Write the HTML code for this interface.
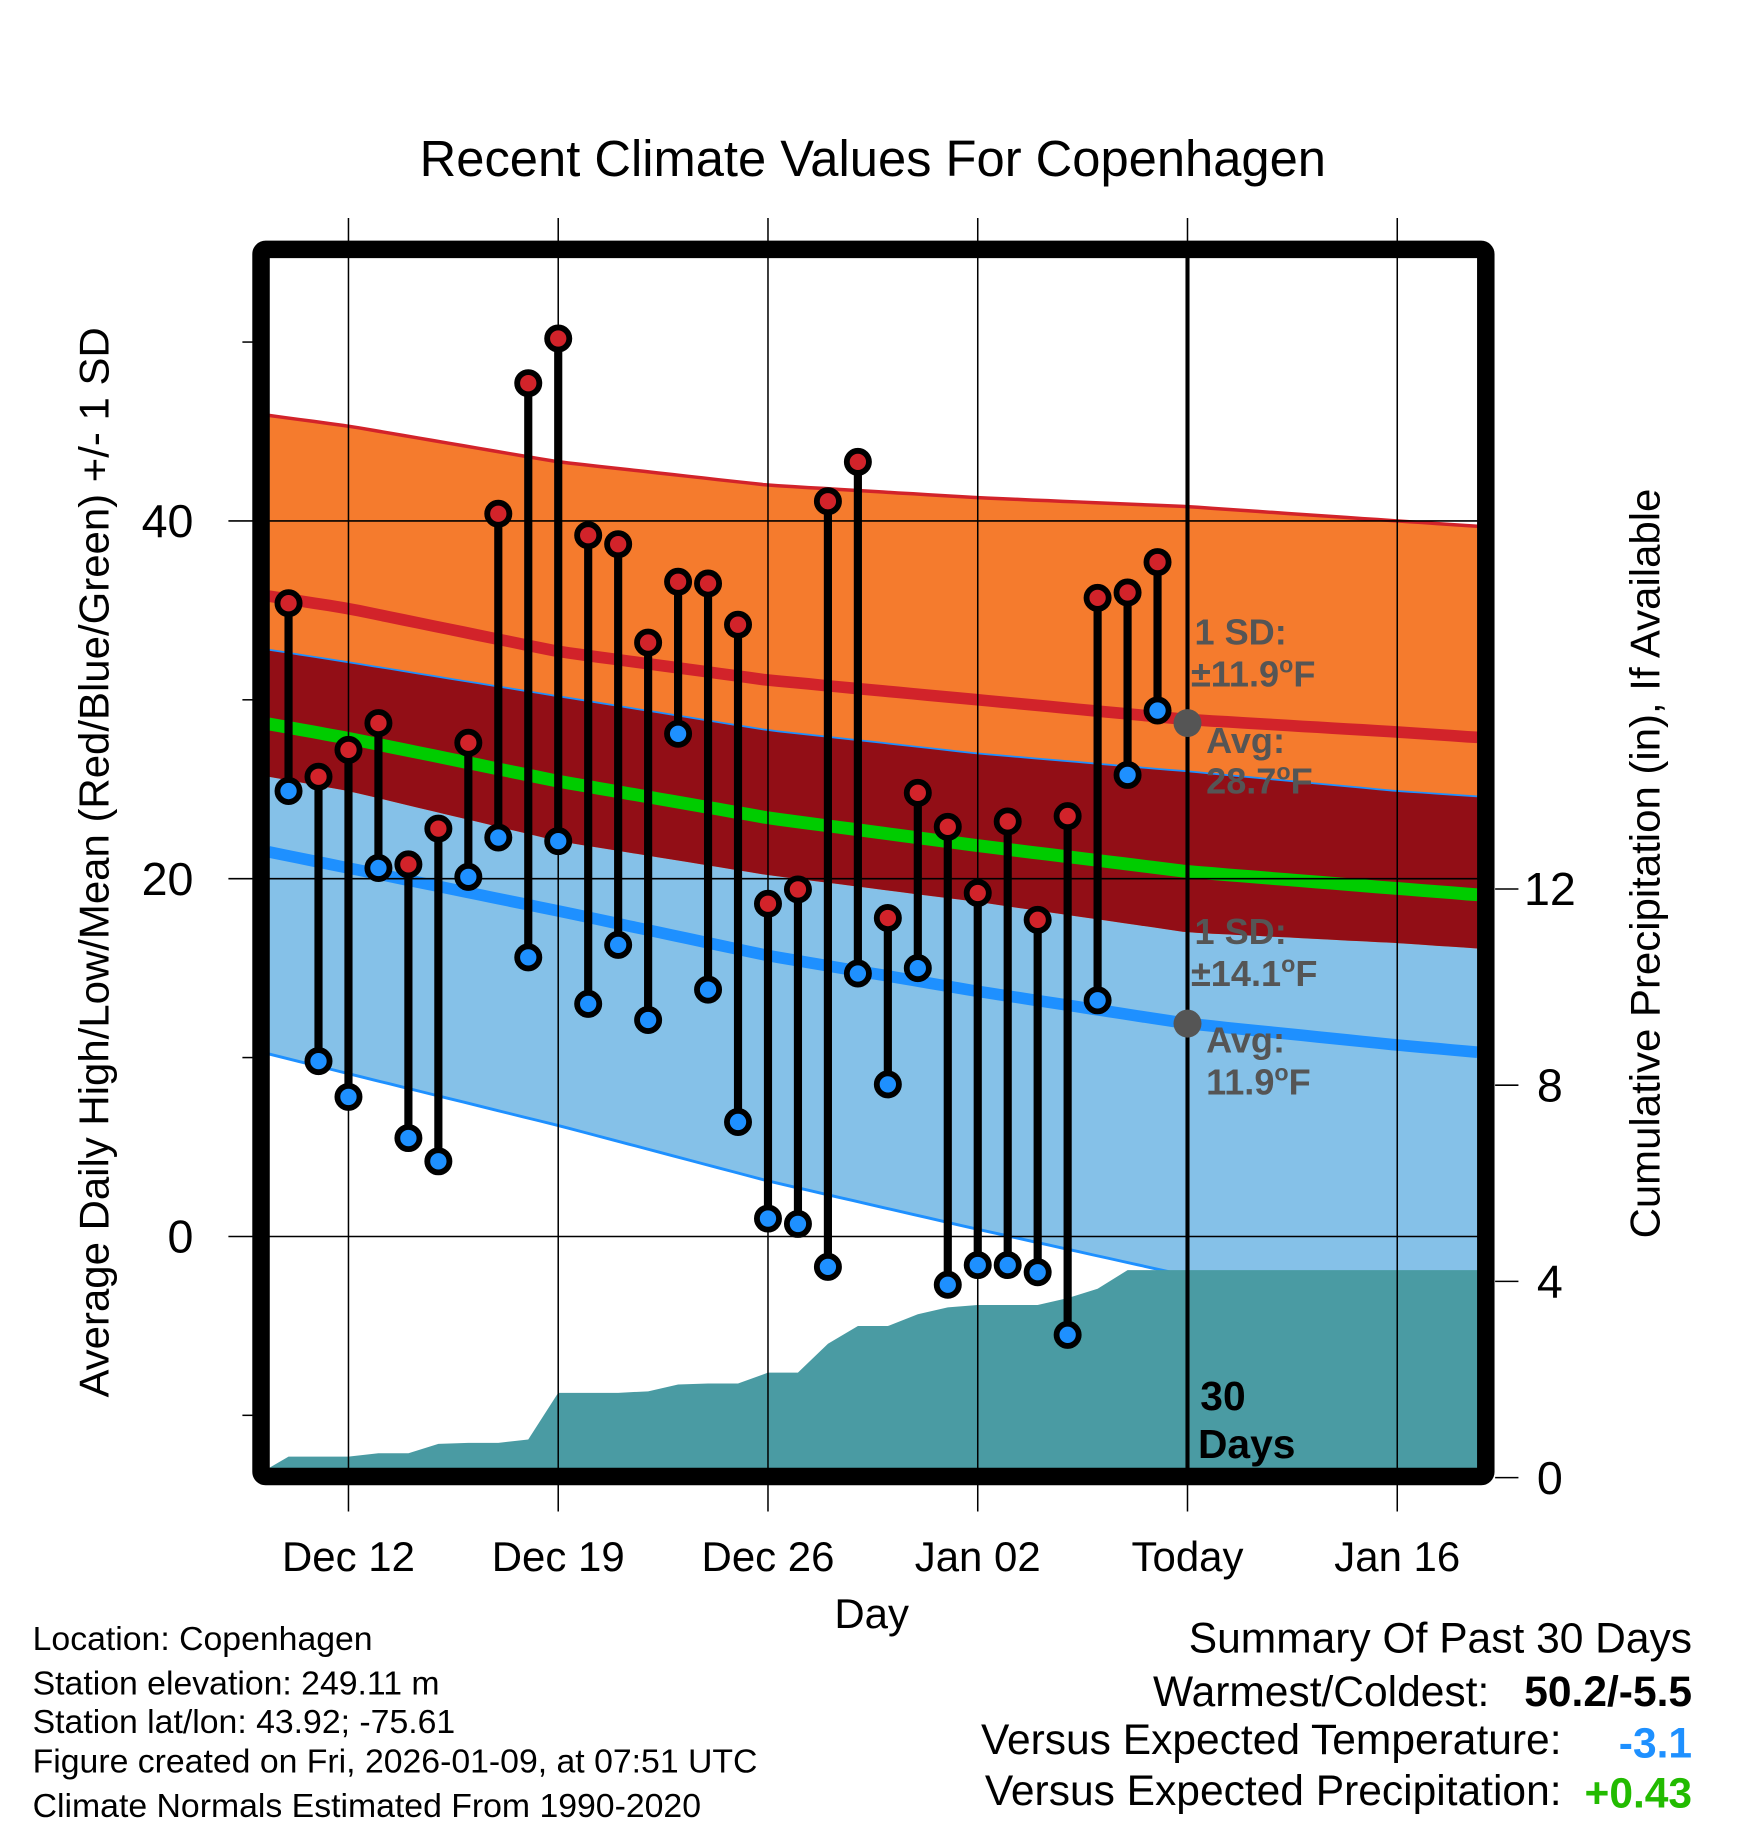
<!DOCTYPE html>
<html><head><meta charset="utf-8"><style>
html,body{margin:0;padding:0;background:#fff}
svg{display:block;font-family:"Liberation Sans",Arial,sans-serif}
</style></head><body>
<svg id="chart" width="1748" height="1828" viewBox="0 0 1500 1568.6" xmlns="http://www.w3.org/2000/svg">
<g id="g-bands"></g>
<g id="g-precip"></g>
<g id="g-grid"></g>
<g id="g-data"></g>
<g id="g-frame"></g>
<g id="g-text"></g>
</svg>
<script>
// Normals (day offset relative to Dec 10)
const normDays = [-0.66, 2, 9, 16, 23, 30, 37, 39.67];
const highMean = [35.8, 35.1, 32.7, 31.1, 30.0, 28.9, 28.2, 27.9];
const highSD = [10.1, 10.2, 10.6, 10.9, 11.3, 11.9, 11.8, 11.8];
const lowMean = [21.5, 20.6, 18.2, 15.7, 13.7, 11.9, 10.7, 10.3];
const lowSD = [11.3, 11.5, 12.0, 12.6, 13.3, 14.1, 14.2, 14.3];
// Daily observations Dec 10 .. Jan 8
const highs = [35.4,25.7,27.2,28.7,20.8,22.8,27.6,40.4,47.7,50.2,39.2,38.7,33.2,36.6,36.5,34.2,18.6,19.4,41.1,43.3,17.8,24.8,22.9,19.2,23.2,17.7,23.5,35.7,36.0,37.7];
const lows = [24.9,9.8,7.8,20.6,5.5,4.2,20.1,22.3,15.6,22.1,13.0,16.3,12.1,28.1,13.8,6.4,1.0,0.7,-1.7,14.7,8.5,15.0,-2.7,-1.6,-1.6,-2.0,-5.5,13.2,25.8,29.4];
const precip = [0.43,0.43,0.43,0.50,0.50,0.69,0.71,0.71,0.78,1.73,1.73,1.73,1.76,1.90,1.92,1.92,2.14,2.14,2.73,3.09,3.09,3.33,3.47,3.52,3.52,3.52,3.66,3.85,4.23,4.23];
const xTickDays = [2, 9, 16, 23, 30, 37];
const xTickLabels = ["Dec 12","Dec 19","Dec 26","Jan 02","Today","Jan 16"];
const yTicks = [0, 20, 40];
const yMinor = [-10, 10, 30, 50];
const pTicks = [0, 4, 8, 12];
const todayHighAvg = 28.7, todayHighSD = 11.9, todayLowAvg = 11.9, todayLowSD = 14.1;

const NS = "http://www.w3.org/2000/svg";
const L = 231, R = 1268, T = 221, B = 1260;
const x = d => 247.6 + d * 25.714;
const y = t => 1061 - t * 15.35;
const yp = p => 1268 - p * 42.1;
function mk(tag, attrs, parent) {
  const e = document.createElementNS(NS, tag);
  for (const k in attrs) e.setAttribute(k, attrs[k]);
  parent.appendChild(e);
  return e;
}
function txt(s, attrs, parent) { const e = mk("text", attrs, parent); e.textContent = s; return e; }
function interp(arr, d) {
  for (let i = 0; i < normDays.length - 1; i++) {
    if (d <= normDays[i + 1]) {
      const f = (d - normDays[i]) / (normDays[i + 1] - normDays[i]);
      return arr[i] + f * (arr[i + 1] - arr[i]);
    }
  }
  return arr[arr.length - 1];
}
const dEnd = normDays[normDays.length - 1];
const samp = [];
for (let d = normDays[0]; d < dEnd; d += 0.5) samp.push(d);
samp.push(dEnd);
function line(fn) { return samp.map(d => x(d).toFixed(1) + "," + y(fn(d)).toFixed(1)); }
function band(fu, fl) { return line(fu).concat(line(fl).reverse()).join(" "); }
const H = d => interp(highMean, d), HS = d => interp(highSD, d), Lo = d => interp(lowMean, d), LS = d => interp(lowSD, d);

const gb = document.getElementById("g-bands");
let e;
e = mk("polygon", {points: band(d => Lo(d) + LS(d), d => Lo(d) - LS(d)), fill: "#85c1e8"}, gb);
 
e = mk("polygon", {points: band(d => H(d) + HS(d), d => H(d) - HS(d)), fill: "#f57b2d"}, gb);
 
e = mk("polygon", {points: band(d => Lo(d) + LS(d), d => H(d) - HS(d)), fill: "#920e16"}, gb);
 
e = mk("polyline", {points: line(d => H(d) + HS(d)).join(" "), fill: "none", stroke: "#d2232a", "stroke-width": 3}, gb);
 
e = mk("polyline", {points: line(d => Lo(d) + LS(d)).join(" "), fill: "none", stroke: "#1e90ff", "stroke-width": 1.5}, gb);
 
e = mk("polyline", {points: line(d => Lo(d) - LS(d)).join(" "), fill: "none", stroke: "#1e90ff", "stroke-width": 2.5}, gb);
 
e = mk("polyline", {points: line(H).join(" "), fill: "none", stroke: "#d2232a", "stroke-width": 10}, gb);
 
e = mk("polyline", {points: line(Lo).join(" "), fill: "none", stroke: "#1e90ff", "stroke-width": 10}, gb);
 
e = mk("polyline", {points: line(d => (H(d) + Lo(d)) / 2).join(" "), fill: "none", stroke: "#00cc00", "stroke-width": 11}, gb);
 

// precipitation
const gp = document.getElementById("g-precip");
let pp = [L + "," + B, L + "," + yp(0.2)];
precip.forEach((p, i) => pp.push(x(i).toFixed(1) + "," + yp(p).toFixed(1)));
pp.push(R + "," + yp(precip[precip.length - 1]), R + "," + B);
e = mk("polygon", {points: pp.join(" "), fill: "#4a9ba3"}, gp);
 

// grid
const gg = document.getElementById("g-grid");
xTickDays.forEach(d => {
  const g = mk("line", {x1: x(d), x2: x(d), y1: 187, y2: 1297, stroke: "#000", "stroke-width": 1.3}, gg);
   
});
yTicks.forEach(t => {
  const g = mk("line", {x1: 196, x2: R, y1: y(t), y2: y(t), stroke: "#000", "stroke-width": 1.3}, gg);
   
});
yMinor.forEach(t => {
  const g = mk("line", {x1: 208, x2: 217, y1: y(t), y2: y(t), stroke: "#000", "stroke-width": 1.3}, gg);
   
});
pTicks.forEach(p => {
  const g = mk("line", {x1: 1283, x2: 1303, y1: yp(p), y2: yp(p), stroke: "#000", "stroke-width": 1.3}, gg);
   
});
e = mk("line", {x1: x(30), x2: x(30), y1: T, y2: B, stroke: "#000", "stroke-width": 3.5}, gg);
 

// daily
const gd = document.getElementById("g-data");
highs.forEach((h, i) => {
  const s = mk("line", {x1: x(i), x2: x(i), y1: y(h), y2: y(lows[i]), stroke: "#000", "stroke-width": 7}, gd);
   
});
highs.forEach((h, i) => {
  const c1 = mk("circle", {cx: x(i), cy: y(h), r: 9.5, fill: "#d2232a", stroke: "#000", "stroke-width": 5}, gd);
   
  const c2 = mk("circle", {cx: x(i), cy: y(lows[i]), r: 9.5, fill: "#1e90ff", stroke: "#000", "stroke-width": 5}, gd);
   
});

// frame
const gf = document.getElementById("g-frame");
e = mk("rect", {x: 224, y: 214, width: 1051, height: 1053, rx: 4, fill: "none", stroke: "#000", "stroke-width": 15}, gf);
 

// text
const gt = document.getElementById("g-text");
function degText(prefix, val, xx, yy) {
  const t = mk("text", {x: xx, y: yy, fill: "#555", "font-size": 31, "font-weight": "bold"}, gt);
  t.appendChild(document.createTextNode(prefix + val));
  const s = mk("tspan", {dy: -12, "font-size": 20}, t); s.textContent = "o";
  const f = mk("tspan", {dy: 12}, t); f.textContent = "F";
  return t;
}
[["1 SD:", 1025, 553], ["Avg:", 1035, 646], ["1 SD:", 1025, 810], ["Avg:", 1035, 903]].forEach(a => {
  const t = txt(a[0], {x: a[1], y: a[2], fill: "#555", "font-size": 31, "font-weight": "bold"}, gt);
   
});
e = degText("\u00b1", todayHighSD, 1022, 589);
 
e = degText("", todayHighAvg, 1035, 681);
 
e = degText("\u00b1", todayLowSD, 1022, 846);
 
e = degText("", todayLowAvg, 1035, 939);
 
[["30", 1030, 1210], ["Days", 1028, 1251]].forEach(a => {
  const t = txt(a[0], {x: a[1], y: a[2], fill: "#000", "font-size": 35, "font-weight": "bold"}, gt);
   
});
[todayHighAvg, todayLowAvg].forEach(v => {
  const c = mk("circle", {cx: x(30), cy: y(v), r: 12, fill: "#555"}, gt);
   
});
yTicks.forEach(t => {
  const l = txt(String(t), {x: 166, y: y(t) + 14, "font-size": 40, "text-anchor": "end"}, gt);
   
});
pTicks.forEach(p => {
  const l = txt(String(p), {x: 1330, y: yp(p) + 14, "font-size": 40, "text-anchor": "middle"}, gt);
   
});
xTickDays.forEach((d, i) => {
  const l = txt(xTickLabels[i], {x: x(d), y: 1348, "font-size": 36, "text-anchor": "middle"}, gt);
   
});
const statics = [
  ["Recent Climate Values For Copenhagen", {x: 749, y: 151, "font-size": 43.5, "text-anchor": "middle"}, "chart-title"],
  ["Day", {x: 748, y: 1397, "font-size": 36, "text-anchor": "middle"}, "x-axis-title"],
  ["Average Daily High/Low/Mean (Red/Blue/Green) +/- 1 SD", {x: 0, y: 0, "font-size": 36, "text-anchor": "middle", transform: "translate(93,740) rotate(-90)"}, "y-axis-title"],
  ["Cumulative Precipitation (in), If Available", {x: 0, y: 0, "font-size": 36, "text-anchor": "middle", transform: "translate(1424,741) rotate(-90)"}, "precip-axis-title"],
  ["Location: Copenhagen", {x: 28, y: 1416, "font-size": 29}, "location-note"],
  ["Station elevation: 249.11 m", {x: 28, y: 1454, "font-size": 29}, "elevation-note"],
  ["Station lat/lon: 43.92; -75.61", {x: 28, y: 1487, "font-size": 29}, "latlon-note"],
  ["Figure created on Fri, 2026-01-09, at 07:51 UTC", {x: 28, y: 1521, "font-size": 29}, "created-note"],
  ["Climate Normals Estimated From 1990-2020", {x: 28, y: 1559, "font-size": 29}, "normals-note"],
  ["Summary Of Past 30 Days", {x: 1452, y: 1418, "font-size": 36.5, "text-anchor": "end"}, "summary-title"],
  ["Warmest/Coldest:", {x: 1278, y: 1464, "font-size": 36.5, "text-anchor": "end"}, "warmest-label"],
  ["50.2/-5.5", {x: 1452, y: 1464, "font-size": 36.5, "text-anchor": "end", "font-weight": "bold"}, "warmest-value"],
  ["Versus Expected Temperature:", {x: 1340, y: 1505, "font-size": 36.5, "text-anchor": "end"}, "temp-anomaly-label"],
  ["-3.1", {x: 1452, y: 1508, "font-size": 36.5, "text-anchor": "end", "font-weight": "bold", fill: "#1e90ff"}, "temp-anomaly-value"],
  ["Versus Expected Precipitation:", {x: 1340, y: 1549, "font-size": 36.5, "text-anchor": "end"}, "precip-anomaly-label"],
  ["+0.43", {x: 1452, y: 1551, "font-size": 36.5, "text-anchor": "end", "font-weight": "bold", fill: "#22bb00"}, "precip-anomaly-value"]
];
statics.forEach(s => {
  const t = txt(s[0], s[1], gt);
  
  
});
</script>
</body></html>
